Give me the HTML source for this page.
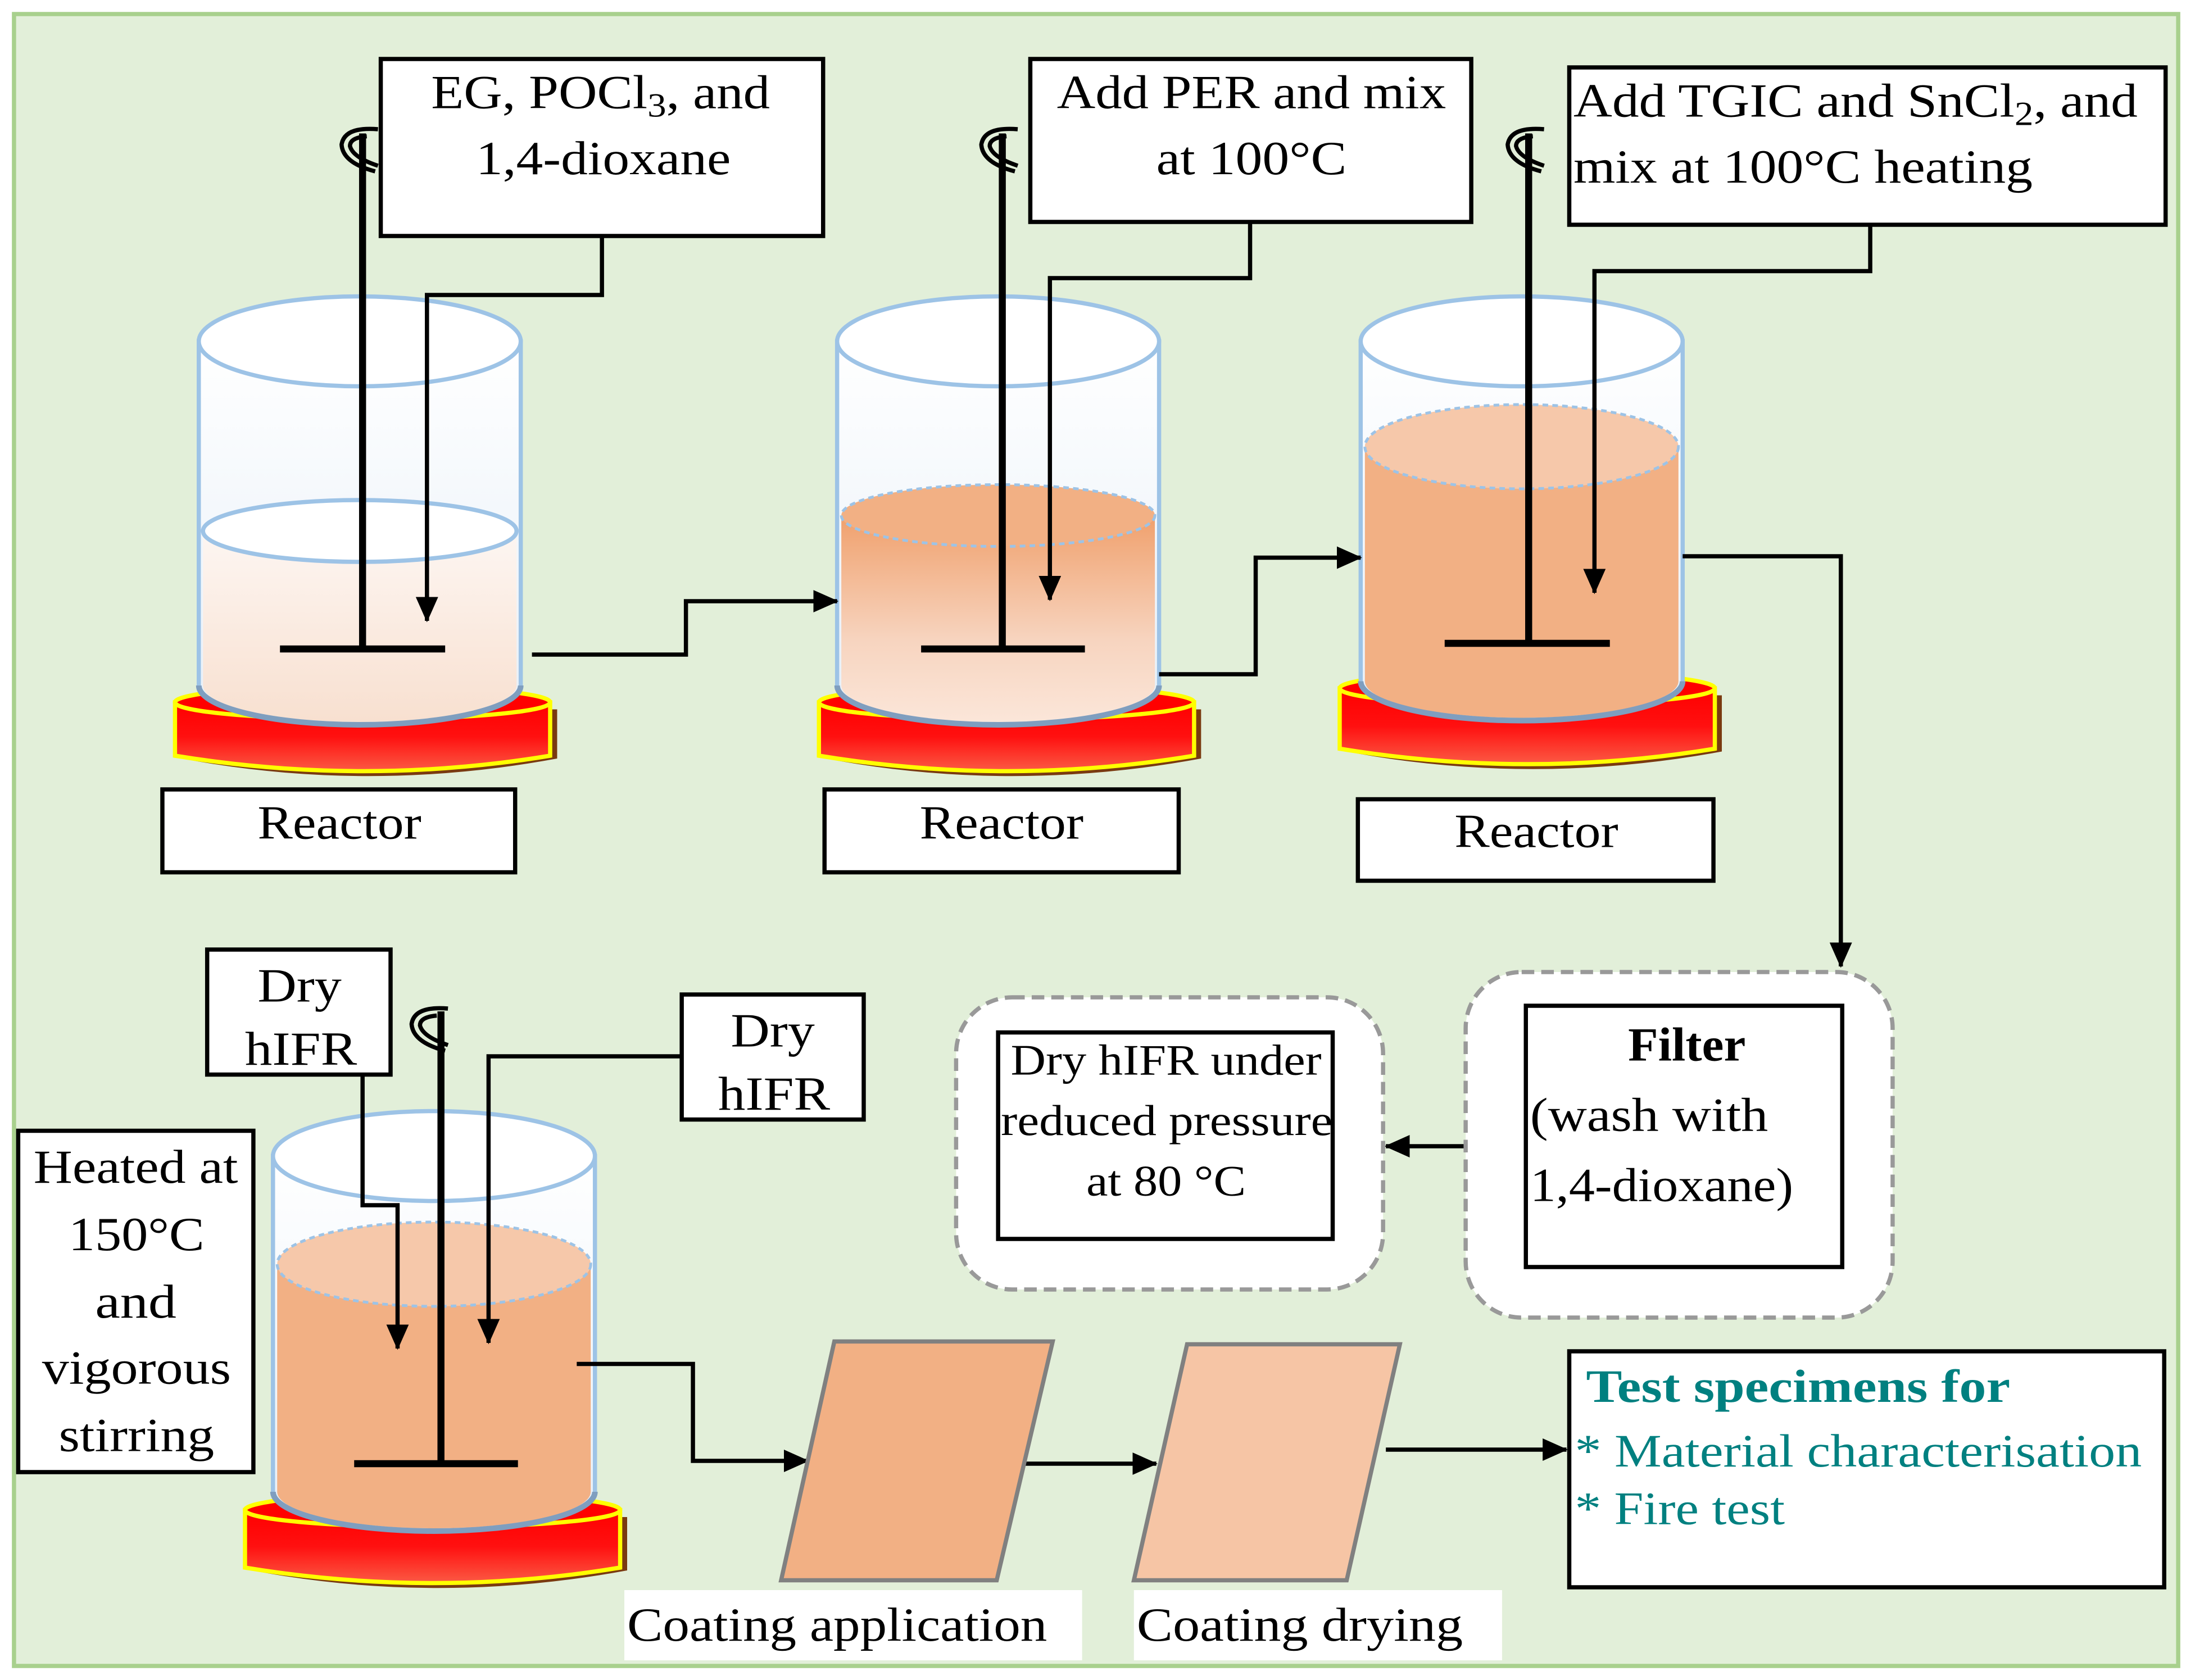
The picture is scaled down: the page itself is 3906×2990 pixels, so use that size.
<!DOCTYPE html>
<html><head><meta charset="utf-8"><style>html,body{margin:0;padding:0;background:#fff}svg{display:block}</style></head>
<body>
<svg width="3906" height="2990" viewBox="0 0 1568 1196" preserveAspectRatio="none" xmlns="http://www.w3.org/2000/svg" font-family="'Liberation Serif', serif">
<defs>
<marker id="ah" markerWidth="18" markerHeight="16" refX="17" refY="8" orient="auto" markerUnits="userSpaceOnUse" viewBox="0 0 18 16"><path d="M0,0 L18,8 L0,16 z" fill="#000"/></marker>
<linearGradient id="glass" x1="0" y1="0" x2="0" y2="1"><stop offset="0" stop-color="#fff"/><stop offset="1" stop-color="#e6eff8"/></linearGradient>
<linearGradient id="liq1" x1="0" y1="0" x2="0" y2="1"><stop offset="0" stop-color="#fdf6f2"/><stop offset="1" stop-color="#f8e0d0"/></linearGradient>
<linearGradient id="liq2" x1="0" y1="0" x2="0" y2="1"><stop offset="0" stop-color="#f0a06c"/><stop offset="0.6" stop-color="#f7d4bf"/><stop offset="1" stop-color="#fbe6d9"/></linearGradient>
<linearGradient id="plate" x1="0" y1="0" x2="0" y2="1"><stop offset="0" stop-color="#ff0000"/><stop offset="0.5" stop-color="#ff1010"/><stop offset="1" stop-color="#fb5a44"/></linearGradient>
</defs>
<rect x="0" y="0" width="1568" height="1196" fill="#ffffff"/>
<rect x="10" y="10" width="1546" height="1176" fill="#e2efd9" stroke="#a8d08d" stroke-width="3"/>

<g>
<path d="M130,505 L130,540 Q262,565 398,540 L398,505 Z" fill="#7a3a10"/>
<path d="M125,500 L125,538 Q260,560 393,538 L393,500 Z" fill="url(#plate)" stroke="#ffff00" stroke-width="3"/>
<ellipse cx="259" cy="500" rx="134" ry="12" fill="#ff0000" stroke="#ffff00" stroke-width="3"/>
<path d="M142,243 L142,488 A115,28 0 0 0 372,488 L372,243 Z" fill="url(#glass)" stroke="#9dc3e6" stroke-width="3"/>
<path d="M145,378 L145,488 A112,26 0 0 0 369,488 L369,378 Z" fill="url(#liq1)"/>
<ellipse cx="257" cy="378" rx="112" ry="22" fill="#fff" stroke="#9dc3e6" stroke-width="3"/>
<ellipse cx="257" cy="243" rx="115" ry="32" fill="#fff" stroke="#9dc3e6" stroke-width="3"/>
<path d="M142,488 A115,28 0 0 0 372,488" fill="none" stroke="#7f9ebf" stroke-width="4"/>
</g>
<g>
<path d="M590,505 L590,540 Q722,565 858,540 L858,505 Z" fill="#7a3a10"/>
<path d="M585,500 L585,538 Q720,560 853,538 L853,500 Z" fill="url(#plate)" stroke="#ffff00" stroke-width="3"/>
<ellipse cx="719" cy="500" rx="134" ry="12" fill="#ff0000" stroke="#ffff00" stroke-width="3"/>
<path d="M598,243 L598,488 A115,28 0 0 0 828,488 L828,243 Z" fill="url(#glass)" stroke="#9dc3e6" stroke-width="3"/>
<path d="M601,367 L601,488 A112,26 0 0 0 825,488 L825,367 Z" fill="url(#liq2)"/>
<ellipse cx="713" cy="367" rx="112" ry="22" fill="#f2b084" stroke="#9dc3e6" stroke-width="2" stroke-dasharray="4,3"/>
<ellipse cx="713" cy="243" rx="115" ry="32" fill="#fff" stroke="#9dc3e6" stroke-width="3"/>
<path d="M598,488 A115,28 0 0 0 828,488" fill="none" stroke="#7f9ebf" stroke-width="4"/>
</g>
<g>
<path d="M962,495 L962,535 Q1094,560 1230,535 L1230,495 Z" fill="#7a3a10"/>
<path d="M957,490 L957,533 Q1092,555 1225,533 L1225,490 Z" fill="url(#plate)" stroke="#ffff00" stroke-width="3"/>
<ellipse cx="1091" cy="490" rx="134" ry="12" fill="#ff0000" stroke="#ffff00" stroke-width="3"/>
<path d="M972,243 L972,485 A115,28 0 0 0 1202,485 L1202,243 Z" fill="url(#glass)" stroke="#9dc3e6" stroke-width="3"/>
<path d="M975,318 L975,485 A112,26 0 0 0 1199,485 L1199,318 Z" fill="#f2b084"/>
<ellipse cx="1087" cy="318" rx="112" ry="30" fill="#f6c8aa" stroke="#9dc3e6" stroke-width="2" stroke-dasharray="4,3"/>
<ellipse cx="1087" cy="243" rx="115" ry="32" fill="#fff" stroke="#9dc3e6" stroke-width="3"/>
<path d="M972,485 A115,28 0 0 0 1202,485" fill="none" stroke="#7f9ebf" stroke-width="4"/>
</g>
<g>
<path d="M180,1080 L180,1118 Q312,1143 448,1118 L448,1080 Z" fill="#7a3a10"/>
<path d="M175,1075 L175,1116 Q310,1138 443,1116 L443,1075 Z" fill="url(#plate)" stroke="#ffff00" stroke-width="3"/>
<ellipse cx="309" cy="1075" rx="134" ry="12" fill="#ff0000" stroke="#ffff00" stroke-width="3"/>
<path d="M195,823 L195,1062 A115,28 0 0 0 425,1062 L425,823 Z" fill="url(#glass)" stroke="#9dc3e6" stroke-width="3"/>
<path d="M198,900 L198,1062 A112,26 0 0 0 422,1062 L422,900 Z" fill="#f2b084"/>
<ellipse cx="310" cy="900" rx="112" ry="30" fill="#f6c8aa" stroke="#9dc3e6" stroke-width="2" stroke-dasharray="4,3"/>
<ellipse cx="310" cy="823" rx="115" ry="32" fill="#fff" stroke="#9dc3e6" stroke-width="3"/>
<path d="M195,1062 A115,28 0 0 0 425,1062" fill="none" stroke="#7f9ebf" stroke-width="4"/>
</g>

<g stroke="#000" stroke-width="5" fill="none">
<path d="M259,95 V462 M200,462 H318"/>
<path d="M716,95 V462 M658,462 H775"/>
<path d="M1092,95 V458 M1032,458 H1150"/>
<path d="M315,720 V1042 M253,1042 H370"/>
</g>
<g stroke="#000" stroke-width="3" fill="none">
<path d="M270,92 Q246,90 244,103 Q245,116 268,122 M262,97 Q250,98 250,104 Q252,112 270,118"/>
<path d="M727,92 Q703,90 701,103 Q702,116 725,122 M719,97 Q707,98 707,104 Q709,112 727,118"/>
<path d="M1103,92 Q1079,90 1077,103 Q1078,116 1101,122 M1095,97 Q1083,98 1083,104 Q1085,112 1103,118"/>
<path d="M320,718 Q296,716 294,729 Q295,742 318,748 M312,723 Q300,724 300,730 Q302,738 320,744"/>
</g>

<g fill="#fff" stroke="#000" stroke-width="3">
<rect x="272" y="42" width="316" height="126"/>
<rect x="736" y="42" width="315" height="116"/>
<rect x="1121" y="48" width="426" height="112"/>
<rect x="116" y="562" width="252" height="59"/>
<rect x="589" y="562" width="253" height="59"/>
<rect x="970" y="569" width="254" height="58"/>
<rect x="148" y="676" width="131" height="89"/>
<rect x="487" y="708" width="130" height="89"/>
<rect x="13" y="805" width="168" height="243"/>
<rect x="1121" y="962" width="425" height="168"/>
</g>
<g font-size="34" fill="#000">
<text x="308" y="77" textLength="242" lengthAdjust="spacingAndGlyphs">EG, POCl<tspan font-size="24" dy="6">3</tspan><tspan dy="-6">, and</tspan></text>
<text x="340" y="124" textLength="182" lengthAdjust="spacingAndGlyphs">1,4-dioxane</text>
<text x="755" y="77" textLength="278" lengthAdjust="spacingAndGlyphs">Add PER and mix</text>
<text x="826" y="124" textLength="136" lengthAdjust="spacingAndGlyphs">at 100°C</text>
<text x="184" y="597" textLength="117" lengthAdjust="spacingAndGlyphs">Reactor</text>
<text x="657" y="597" textLength="117" lengthAdjust="spacingAndGlyphs">Reactor</text>
<text x="1039" y="603" textLength="117" lengthAdjust="spacingAndGlyphs">Reactor</text>
<text x="1124" y="83" textLength="403" lengthAdjust="spacingAndGlyphs">Add TGIC and SnCl<tspan font-size="24" dy="6">2</tspan><tspan dy="-6">, and</tspan></text>
<text x="1124" y="130" textLength="328" lengthAdjust="spacingAndGlyphs">mix at 100°C heating</text>
<text x="184" y="713" textLength="60" lengthAdjust="spacingAndGlyphs">Dry</text>
<text x="175" y="758" textLength="80" lengthAdjust="spacingAndGlyphs">hIFR</text>
<text x="522" y="745" textLength="60" lengthAdjust="spacingAndGlyphs">Dry</text>
<text x="513" y="790" textLength="80" lengthAdjust="spacingAndGlyphs">hIFR</text>
<text x="24" y="842" textLength="146" lengthAdjust="spacingAndGlyphs">Heated at</text>
<text x="49" y="890" textLength="97" lengthAdjust="spacingAndGlyphs">150°C</text>
<text x="68" y="938" textLength="58" lengthAdjust="spacingAndGlyphs">and</text>
<text x="30" y="985" textLength="135" lengthAdjust="spacingAndGlyphs">vigorous</text>
<text x="42" y="1033" textLength="111" lengthAdjust="spacingAndGlyphs">stirring</text>
</g>

<g stroke="#000" stroke-width="3" fill="none" marker-end="url(#ah)">
<path d="M430,168 V210 H305 V442"/>
<path d="M893,158 V198 H750 V427"/>
<path d="M1336,160 V193 H1139 V422"/>
<path d="M380,466 H490 V428 H598"/>
<path d="M828,480 H897 V397 H972"/>
<path d="M1202,396 H1315 V688"/>
<path d="M1047,816 H990"/>
<path d="M259,765 V858 H284 V960"/>
<path d="M487,752 H349 V956"/>
<path d="M412,971 H495 V1040 H577"/>
<path d="M730,1042 H826"/>
<path d="M990,1032 H1119"/>
</g>

<rect x="1047" y="692" width="305" height="246" rx="40" fill="#fff" stroke="#999" stroke-width="3" stroke-dasharray="9,5"/>
<rect x="683" y="710" width="305" height="208" rx="40" fill="#fff" stroke="#999" stroke-width="3" stroke-dasharray="9,5"/>
<rect x="1090" y="716" width="226" height="186" fill="#fff" stroke="#000" stroke-width="3"/>
<rect x="713" y="735" width="239" height="147" fill="#fff" stroke="#000" stroke-width="3"/>
<g font-size="34" fill="#000">
<text x="1163" y="755" font-weight="bold" textLength="84" lengthAdjust="spacingAndGlyphs">Filter</text>
<text x="1093" y="805" textLength="170" lengthAdjust="spacingAndGlyphs">(wash with</text>
<text x="1093" y="855" textLength="188" lengthAdjust="spacingAndGlyphs">1,4-dioxane)</text>
</g>
<g font-size="31" fill="#000">
<text x="722" y="765" textLength="222" lengthAdjust="spacingAndGlyphs">Dry hIFR under</text>
<text x="715" y="808" textLength="237" lengthAdjust="spacingAndGlyphs">reduced pressure</text>
<text x="776" y="851" textLength="114" lengthAdjust="spacingAndGlyphs">at 80 °C</text>
</g>

<polygon points="596,955 752,955 712,1125 558,1125" fill="#f2b084" stroke="#808080" stroke-width="3"/>
<polygon points="848,957 1000,957 962,1125 810,1125" fill="#f6c5a5" stroke="#808080" stroke-width="3"/>
<rect x="446" y="1132" width="327" height="50" fill="#fff"/>
<rect x="810" y="1132" width="263" height="50" fill="#fff"/>
<g font-size="34" fill="#000">
<text x="448" y="1168" textLength="300" lengthAdjust="spacingAndGlyphs">Coating application</text>
<text x="812" y="1168" textLength="233" lengthAdjust="spacingAndGlyphs">Coating drying</text>
</g>

<g font-size="33" fill="#008080">
<text x="1133" y="998" font-weight="bold" textLength="303" lengthAdjust="spacingAndGlyphs">Test specimens for</text>
<text x="1125" y="1044" textLength="405" lengthAdjust="spacingAndGlyphs">* Material characterisation</text>
<text x="1125" y="1085" textLength="150" lengthAdjust="spacingAndGlyphs">* Fire test</text>
</g>
</svg>
</body></html>
